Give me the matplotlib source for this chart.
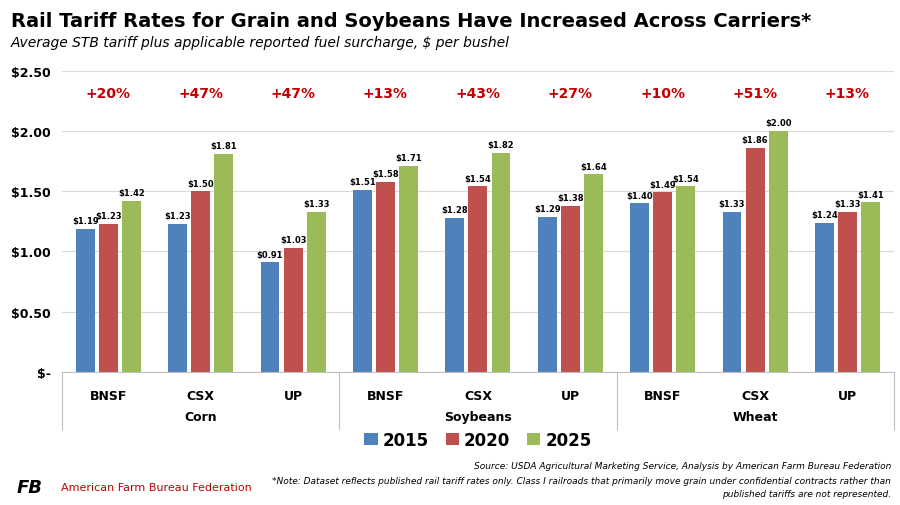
import numpy as np
import matplotlib.pyplot as plt

commodities = ["Corn", "Soybeans", "Wheat"]
carriers = ["BNSF", "CSX", "UP"] * 3
v2015 = [1.19, 1.23, 0.91, 1.51, 1.28, 1.29, 1.40, 1.33, 1.24]
v2020 = [1.23, 1.50, 1.03, 1.58, 1.54, 1.38, 1.49, 1.86, 1.33]
v2025 = [1.42, 1.81, 1.33, 1.71, 1.82, 1.64, 1.54, 2.00, 1.41]
changes = ["+20%", "+47%", "+47%", "+13%", "+43%", "+27%", "+10%", "+51%", "+13%"]
years = ["2015", "2020", "2025"]
colors = ["#4F81BD", "#C0504D", "#9BBB59"]

fig = plt.figure(figsize=(9, 5.06), dpi=100)
ax = fig.add_axes([0.069, 0.263, 0.924, 0.595])

x = np.arange(len(carriers))
w = 0.25
for i, (vals, c, yr) in enumerate(zip([v2015, v2020, v2025], colors, years)):
    bars = ax.bar(x + (i - 1) * w, vals, w * 0.82, color=c, label=yr)
    for b, v in zip(bars, vals):
        ax.text(b.get_x() + b.get_width() / 2, v + 0.03, f"${v:.2f}",
                ha="center", va="bottom", fontsize=6, fontweight="bold")
for xi, t in zip(x, changes):
    ax.text(xi, 2.32, t, ha="center", va="center", color="#C00000",
            fontsize=10, fontweight="bold")

ax.set_xlim(-0.5, 8.5)
ax.set_ylim(0, 2.5)
ax.set_yticks([0, 0.5, 1.0, 1.5, 2.0, 2.5])
ax.set_yticklabels(["$-", "$0.50", "$1.00", "$1.50", "$2.00", "$2.50"],
                   fontsize=9, fontweight="bold")
ax.set_xticks(x)
ax.set_xticklabels(carriers, fontsize=9, fontweight="bold")
ax.tick_params(axis="x", length=0, pad=12)
ax.tick_params(axis="y", length=0, pad=8)
ax.grid(axis="y", color="#d9d9d9", linewidth=0.8)
ax.set_axisbelow(True)
for s in ["top", "right", "left"]:
    ax.spines[s].set_visible(False)
ax.spines["bottom"].set_color("#bfbfbf")

# group separators and labels
for sep in [-0.5, 2.5, 5.5, 8.5]:
    ax.plot([sep, sep], [0, -0.47], color="#bfbfbf", lw=0.8, clip_on=False)
for gi, name in enumerate(commodities):
    ax.text(gi * 3 + 1, -0.37, name, ha="center", va="center",
            fontsize=9, fontweight="bold")

ax.legend(loc="center", bbox_to_anchor=(0.5, -0.225), ncol=3, frameon=False,
          prop={"weight": "bold", "size": 12}, handlelength=0.8,
          handletextpad=0.3, columnspacing=1.0)

fig.text(0.012, 0.957, "Rail Tariff Rates for Grain and Soybeans Have Increased Across Carriers*",
         fontsize=14, fontweight="bold", va="center")
fig.text(0.012, 0.915, "Average STB tariff plus applicable reported fuel surcharge, $ per bushel",
         fontsize=10, style="italic", va="center")
fig.text(0.99, 0.078, "Source: USDA Agricultural Marketing Service, Analysis by American Farm Bureau Federation",
         fontsize=6.5, style="italic", ha="right", va="center")
fig.text(0.99, 0.048, "*Note: Dataset reflects published rail tariff rates only. Class I railroads that primarily move grain under confidential contracts rather than",
         fontsize=6.5, style="italic", ha="right", va="center")
fig.text(0.99, 0.022, "published tariffs are not represented.",
         fontsize=6.5, style="italic", ha="right", va="center")
fig.text(0.018, 0.035, "FB", fontsize=13, fontweight="bold", style="italic", va="center")
fig.text(0.068, 0.035, "American Farm Bureau Federation", fontsize=8,
         color="#C00000", va="center")

fig.savefig("out.png", dpi=100)
